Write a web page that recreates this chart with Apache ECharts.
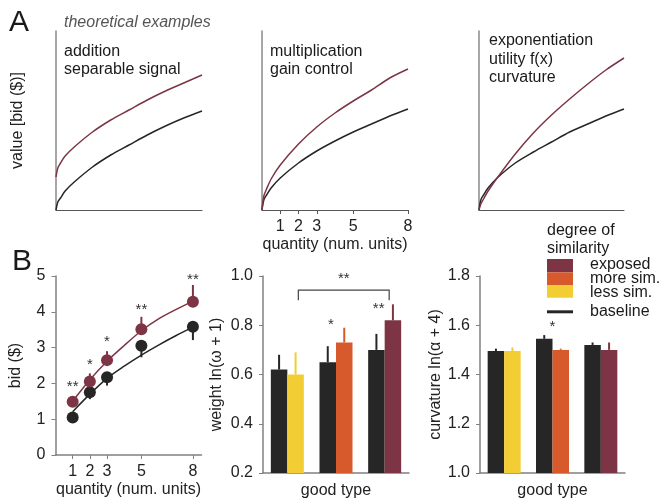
<!DOCTYPE html>
<html>
<head>
<meta charset="utf-8">
<script src="https://cdn.jsdelivr.net/npm/echarts@6/dist/echarts.min.js"></script>
</head>
<body style="margin:0">
<div id="container" style="width:660px;height:502px"></div>
<script>
// panel A: theoretical curves (value in px-height units)
var curveX = [0, 0.1, 0.25, 0.5, 1, 2, 3, 4, 5, 6, 7, 8];
var addBase = [0, 8, 12, 19, 28, 43, 55, 65, 75, 84, 92, 99];
var addShift = [33, 42, 47, 54, 63, 78, 90, 100, 110, 119, 127, 135];
var mulBase = [0, 10, 15, 22, 32, 47, 59, 69, 78, 86, 94, 101];
var mulGain = [0, 14, 21, 31, 45, 66, 83, 97, 109, 120, 132, 141];
var expBase = [0, 10, 15, 22, 32, 47, 58, 68, 78, 86, 94, 101];
var expCurv = [0, 6, 11, 19, 32, 56, 77, 95, 111, 126, 140, 152];
var qtyTicks = [1, 2, 3, 5, 8];

// panel B1: bids
var bidQty = [1, 2, 3, 5, 8];
var bidExposed = [1.49, 2.05, 2.65, 3.51, 4.28];
var bidExposedErr = [1.56, 2.28, 2.9, 3.86, 4.75];
var bidBaseline = [1.05, 1.75, 2.17, 3.05, 3.58];
var bidBaselineErr = [0.98, 1.56, 1.94, 2.73, 3.21];
var fitQty = [1, 2, 3, 4, 5, 6, 7, 8];
var fitExposed = [1.5, 2.1, 2.62, 3.06, 3.47, 3.8, 4.06, 4.3];
var fitBaseline = [1.21, 1.7, 2.14, 2.48, 2.79, 3.07, 3.33, 3.57];
var bidStars = ['**', '*', '*', '**', '**'];
var bidStarY = [1.89, 2.51, 3.16, 4.05, 4.89];

// panels B2, B3: bars
var goodTypes = ['less sim.', 'more sim.', 'exposed'];
var simColors = ['#f2cd33', '#d65a2b', '#7d3545'];
var weightBase = [0.62, 0.65, 0.70];
var weightBaseErr = [0.68, 0.715, 0.765];
var weightSim = [0.60, 0.73, 0.82];
var weightSimErr = [0.69, 0.79, 0.885];
var curvBase = [1.495, 1.545, 1.52];
var curvBaseErr = [1.505, 1.56, 1.53];
var curvSim = [1.495, 1.50, 1.50];
var curvSimErr = [1.51, 1.505, 1.53];
var curvStarY = 1.593;

var BLACK = '#262626', MAROON = '#7d3545';
var FONT = '"Liberation Sans", Arial, sans-serif';

var dom = document.getElementById('container');
var myChart = echarts.init(dom);

function pairs(xs, ys) {
  return xs.map(function (x, i) { return [x, ys[i]]; });
}

function curveLine(idx, xs, ys, color) {
  return {
    type: 'line', xAxisIndex: idx, yAxisIndex: idx, data: pairs(xs, ys),
    smooth: 0.3, showSymbol: false, silent: true,
    lineStyle: {color: color, width: 1.5}
  };
}

// vertical error line from value(1) to value(2), shifted sideways in px
function errSeries(idx, data, shift, colors) {
  return {
    type: 'custom', xAxisIndex: idx, yAxisIndex: idx, data: data, silent: true, z: 3,
    renderItem: function (params, api) {
      var a = api.coord([api.value(0), api.value(1)]);
      var b = api.coord([api.value(0), api.value(2)]);
      return {
        type: 'line',
        shape: {x1: a[0] + shift, y1: a[1], x2: b[0] + shift, y2: b[1]},
        style: {stroke: colors[params.dataIndex % colors.length], lineWidth: 2}
      };
    }
  };
}

function starSeries(idx, data, texts, shift) {
  return {
    type: 'custom', xAxisIndex: idx, yAxisIndex: idx, data: data, silent: true, z: 5,
    renderItem: function (params, api) {
      var p = api.coord([api.value(0), api.value(1)]);
      return {
        type: 'text', x: p[0] + shift, y: p[1],
        style: {text: texts[params.dataIndex], fill: '#333', font: '15px ' + FONT,
                align: 'center', verticalAlign: 'middle'}
      };
    }
  };
}

function aXAxis(idx, withTicks) {
  return {
    type: 'value', gridIndex: idx, min: 0, max: 8,
    axisLine: {lineStyle: {color: '#555', width: 1}},
    splitLine: {show: false},
    axisTick: withTicks ? {customValues: qtyTicks, length: 4, lineStyle: {color: '#555'}} : {show: false},
    axisLabel: withTicks ? {customValues: qtyTicks, fontSize: 16, color: '#222', fontFamily: FONT, margin: 9} : {show: false},
    name: withTicks ? 'quantity (num. units)' : '', nameLocation: 'middle', nameGap: 27,
    nameTextStyle: {fontSize: 16, color: '#222', fontFamily: FONT}
  };
}

function aYAxis(idx, name) {
  return {
    type: 'value', gridIndex: idx, min: 0, max: 179,
    axisLine: {show: true, lineStyle: {color: '#8a8a8a', width: 1.5}},
    axisTick: {show: false}, axisLabel: {show: false}, splitLine: {show: false},
    name: name, nameLocation: 'middle', nameGap: 30,
    nameTextStyle: {fontSize: 16, color: '#222', fontFamily: FONT}
  };
}

function barYAxis(idx, min, max, name, gap) {
  return {
    type: 'value', gridIndex: idx, min: min, max: max, interval: 0.2,
    axisLine: {show: true, lineStyle: {color: '#808080', width: 1.5}},
    axisTick: {show: true, length: 4, lineStyle: {color: '#808080'}},
    axisLabel: {fontSize: 16, color: '#222', fontFamily: FONT, margin: 10,
                formatter: function (v) { return v.toFixed(1); }},
    splitLine: {show: false},
    name: name, nameLocation: 'middle', nameGap: gap,
    nameTextStyle: {fontSize: 16, color: '#222', fontFamily: FONT}
  };
}

function barXAxis(idx) {
  return {
    type: 'category', gridIndex: idx, data: goodTypes,
    axisLine: {lineStyle: {color: '#808080', width: 1.5}},
    axisTick: {show: false}, axisLabel: {show: false},
    name: 'good type', nameLocation: 'middle', nameGap: 10,
    nameTextStyle: {fontSize: 16, color: '#222', fontFamily: FONT, verticalAlign: 'top'}
  };
}

function barPair(idx, base, sim) {
  return [
    {type: 'bar', xAxisIndex: idx, yAxisIndex: idx, data: base, barWidth: 16.5, barGap: '0%',
     itemStyle: {color: BLACK}, silent: true},
    {type: 'bar', xAxisIndex: idx, yAxisIndex: idx, barWidth: 16.5, barGap: '0%', silent: true,
     data: sim.map(function (v, i) { return {value: v, itemStyle: {color: simColors[i]}}; })}
  ];
}

function errData(vals, errs) {
  return vals.map(function (v, i) { return [i, v, errs[i]]; });
}

var series = [
  curveLine(0, curveX, addBase, BLACK), curveLine(0, curveX, addShift, MAROON),
  curveLine(1, curveX, mulBase, BLACK), curveLine(1, curveX, mulGain, MAROON),
  curveLine(2, curveX, expBase, BLACK), curveLine(2, curveX, expCurv, MAROON),
  // B1 fits
  curveLine(3, fitQty, fitBaseline, BLACK), curveLine(3, fitQty, fitExposed, MAROON),
  errSeries(3, bidQty.map(function (q, i) { return [q, bidBaseline[i], bidBaselineErr[i]]; }), 0, [BLACK]),
  errSeries(3, bidQty.map(function (q, i) { return [q, bidExposed[i], bidExposedErr[i]]; }), 0, [MAROON]),
  {type: 'scatter', xAxisIndex: 3, yAxisIndex: 3, data: pairs(bidQty, bidBaseline), symbolSize: 12,
   itemStyle: {color: BLACK, opacity: 1}, silent: true, z: 4},
  {type: 'scatter', xAxisIndex: 3, yAxisIndex: 3, data: pairs(bidQty, bidExposed), symbolSize: 12,
   itemStyle: {color: MAROON, opacity: 1}, silent: true, z: 4},
  starSeries(3, pairs(bidQty, bidStarY), bidStars, 0)
];
series = series.concat(barPair(4, weightBase, weightSim), barPair(5, curvBase, curvSim));
series.push(
  errSeries(4, errData(weightBase, weightBaseErr), -8.25, [BLACK]),
  errSeries(4, errData(weightSim, weightSimErr), 8.25, simColors),
  errSeries(5, errData(curvBase, curvBaseErr), -8.25, [BLACK]),
  errSeries(5, errData(curvSim, curvSimErr), 8.25, simColors),
  starSeries(4, [[1, 0.80]], ['*'], -5),
  starSeries(4, [[2, 0.865]], ['**'], -6),
  starSeries(5, [[1, curvStarY]], ['*'], 0),
  // bracket between less sim. and exposed
  {type: 'custom', xAxisIndex: 4, yAxisIndex: 4, data: [[0, 2, 0.943, 0.902]], silent: true,
   renderItem: function (params, api) {
     var l = api.coord([api.value(0), api.value(2)]);
     var r = api.coord([api.value(1), api.value(2)]);
     var d = api.coord([api.value(0), api.value(3)]);
     var x1 = l[0] + 11, x2 = r[0] + 4.5;
     return {
       type: 'group', children: [
         {type: 'polyline', shape: {points: [[x1, d[1]], [x1, l[1]], [x2, l[1]], [x2, d[1]]]},
          style: {stroke: '#444', lineWidth: 1.2, fill: null}},
         {type: 'text', x: (x1 + x2) / 2, y: l[1] - 11,
          style: {text: '**', fill: '#333', font: '15px ' + FONT, align: 'center', verticalAlign: 'middle'}}
       ]
     };
   }}
);

function txt(x, y, s, size, extra, color) {
  var st = {text: s, fill: color || '#1a1a1a', font: (extra || '') + size + 'px ' + FONT, verticalAlign: 'middle'};
  return {type: 'text', x: x, y: y, style: st, silent: true};
}

var graphics = [
  txt(9, 23, 'A', 30), txt(64, 23, 'theoretical examples', 16, 'italic ', '#555'),
  txt(64, 52, 'addition', 16), txt(64, 70, 'separable signal', 16),
  txt(270, 52, 'multiplication', 16), txt(270, 70, 'gain control', 16),
  txt(489, 41, 'exponentiation', 16), txt(489, 59.5, 'utility f(x)', 16), txt(489, 78, 'curvature', 16),
  txt(12, 262, 'B', 30),
  txt(547, 231, 'degree of', 16), txt(547, 249, 'similarity', 16),
  txt(590, 265, 'exposed', 16), txt(590, 279, 'more sim.', 16),
  txt(590, 292.5, 'less sim.', 16), txt(590, 312, 'baseline', 16),
  {type: 'rect', shape: {x: 547, y: 259, width: 26, height: 13.3}, style: {fill: simColors[2]}},
  {type: 'rect', shape: {x: 547, y: 272.3, width: 26, height: 12.7}, style: {fill: simColors[1]}},
  {type: 'rect', shape: {x: 547, y: 285, width: 26, height: 12.7}, style: {fill: simColors[0]}},
  {type: 'rect', shape: {x: 547, y: 310.3, width: 26, height: 3}, style: {fill: BLACK}}
];

var option = {
  animation: false,
  textStyle: {fontFamily: FONT},
  grid: [
    {left: 56, top: 31, width: 146, height: 179},
    {left: 262, top: 31, width: 146, height: 179},
    {left: 479, top: 31, width: 145, height: 179},
    {left: 55.5, top: 276, width: 146, height: 179},
    {left: 263, top: 276, width: 146, height: 197},
    {left: 480, top: 276, width: 145, height: 197}
  ],
  xAxis: [
    aXAxis(0, false), aXAxis(1, true), aXAxis(2, false),
    {type: 'value', gridIndex: 3, min: 0, max: 8.5,
     axisLine: {lineStyle: {color: '#808080', width: 1.5}}, splitLine: {show: false},
     axisTick: {customValues: bidQty, length: 4, lineStyle: {color: '#808080'}},
     axisLabel: {customValues: bidQty, fontSize: 16, color: '#222', fontFamily: FONT, margin: 9},
     name: 'quantity (num. units)', nameLocation: 'middle', nameGap: 27,
     nameTextStyle: {fontSize: 16, color: '#222', fontFamily: FONT}},
    barXAxis(4), barXAxis(5)
  ],
  yAxis: [
    aYAxis(0, 'value [bid ($)]'), aYAxis(1, ''), aYAxis(2, ''),
    {type: 'value', gridIndex: 3, min: 0, max: 5, interval: 1,
     axisLine: {show: true, lineStyle: {color: '#808080', width: 1.5}},
     axisTick: {show: true, length: 4, lineStyle: {color: '#808080'}},
     axisLabel: {fontSize: 16, color: '#222', fontFamily: FONT, margin: 10},
     splitLine: {show: false},
     name: 'bid ($)', nameLocation: 'middle', nameGap: 32,
     nameTextStyle: {fontSize: 16, color: '#222', fontFamily: FONT}},
    barYAxis(4, 0.2, 1.0, 'weight ln(\u03c9 + 1)', 38),
    barYAxis(5, 1.0, 1.8, 'curvature ln(\u03b1 + 4)', 27)
  ],
  series: series,
  graphic: graphics
};
myChart.setOption(option);
</script>
</body>
</html>
